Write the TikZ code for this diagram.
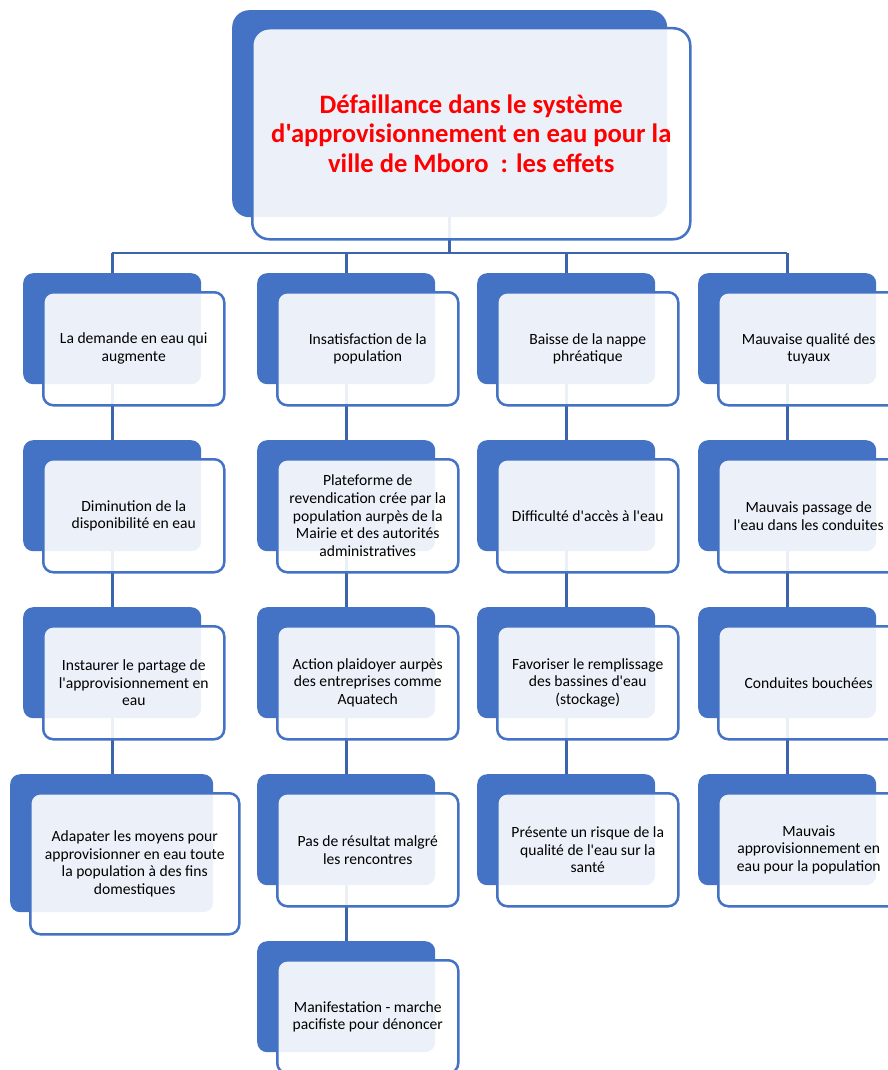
\documentclass[tikz,border=0pt]{standalone}
\usepackage{fontspec}
\setmainfont{Carlito}[Ligatures=TeXOff]
\usetikzlibrary{backgrounds}
\definecolor{accent}{HTML}{4472C4}
\definecolor{linkblue}{HTML}{3C64AC}
\definecolor{titlered}{HTML}{FF0000}
\tikzset{
  backbox/.style={fill=accent, draw=none, rounded corners=10pt, anchor=north west, inner sep=0pt},
  frontbox/.style={fill=white, fill opacity=0.9, text opacity=1, draw=accent, line width=2.5pt,
    rounded corners=10pt, anchor=north west, inner sep=0pt, align=center,
    font=\fontsize{15.6}{17.8}\selectfont, text=black},
  linkline/.style={draw=linkblue, line width=2.8pt},
}
% #1 name, #2 left, #3 top, #4/#5 back size, #6/#7 front size, #8 text
\newcommand\effet[8]{%
  \node[backbox, minimum width=#4, minimum height=#5] (#1b) at (#2,#3) {};
  \node[frontbox, minimum width=#6, minimum height=#7] (#1) at ([shift={(19,18)}]#2,#3) {#8};
}
\newcommand\stdeffet[4]{\effet{#1}{#2}{#3}{178pt}{111pt}{181pt}{113pt}{#4}}
\begin{document}
\begin{tikzpicture}[x=1pt,y=-1pt]
\useasboundingbox (0,0) rectangle (888,1070);
\clip (0,0) rectangle (888,1070);

% title
\node[backbox, rounded corners=17pt, minimum width=435pt, minimum height=207pt] (topb) at (232,10) {};
\node[frontbox, rounded corners=17pt, minimum width=438pt, minimum height=211pt,
      font=\bfseries\fontsize{26.6}{29.5}\selectfont, text=titlered] (top) at (251,27)
  {D\'efaillance dans le syst\`eme\\d'approvisionnement en eau pour la\\ville de Mboro\ \ : les effets};

% column 1
\stdeffet{a1}{23}{273}{La demande en eau qui\\augmente}
\stdeffet{a2}{23}{440}{Diminution de la\\disponibilit\'e en eau}
\stdeffet{a3}{23}{607}{Instaurer le partage de\\l'approvisionnement en\\eau}
\effet{a4}{10}{774}{203pt}{138pt}{209pt}{141pt}{Adapater les moyens pour\\approvisionner en eau toute\\la population \`a des fins\\domestiques}

% column 2
\stdeffet{b1}{257}{273}{Insatisfaction de la\\population}
\stdeffet{b2}{257}{440}{Plateforme de\\revendication cr\'ee par la\\population aurp\`es de la\\Mairie et des autorit\'es\\administratives}
\stdeffet{b3}{257}{607}{Action plaidoyer aurp\`es\\des entreprises comme\\Aquatech}
\stdeffet{b4}{257}{774}{Pas de r\'esultat malgr\'e\\les rencontres}
\stdeffet{b5}{257}{941}{Manifestation - marche\\pacifiste pour d\'enoncer}

% column 3
\stdeffet{c1}{477}{273}{Baisse de la nappe\\phr\'eatique}
\stdeffet{c2}{477}{440}{Difficult\'e d'acc\`es \`a l'eau}
\stdeffet{c3}{477}{607}{Favoriser le remplissage\\des bassines d'eau\\(stockage)}
\stdeffet{c4}{477}{774}{Pr\'esente un risque de la\\qualit\'e de l'eau sur la\\sant\'e}

% column 4
\stdeffet{d1}{698}{273}{Mauvaise qualit\'e des\\tuyaux}
\stdeffet{d2}{698}{440}{Mauvais passage de\\l'eau dans les conduites}
\stdeffet{d3}{698}{607}{Conduites bouch\'ees}
\stdeffet{d4}{698}{774}{Mauvais\\approvisionnement en\\eau pour la population}

% connectors, behind the boxes
\begin{scope}[on background layer]
  \coordinate (bus) at (topb.south |- 0,253);
  \draw[linkline] (topb.south) -- (bus);
  \draw[linkline] (bus -| a1b.north) -- (bus -| d1b.north);
  \foreach \c in {a1b,b1b,c1b,d1b}
    \draw[linkline] (bus -| \c.north) -- (\c.north);
  \foreach \u/\v in {a1b/a2b,a2b/a3b,a3b/a4b,
                     b1b/b2b,b2b/b3b,b3b/b4b,b4b/b5b,
                     c1b/c2b,c2b/c3b,c3b/c4b,
                     d1b/d2b,d2b/d3b,d3b/d4b}
    \draw[linkline] (\u.south) -- (\u.south |- \v.north);
\end{scope}
\end{tikzpicture}
\end{document}
